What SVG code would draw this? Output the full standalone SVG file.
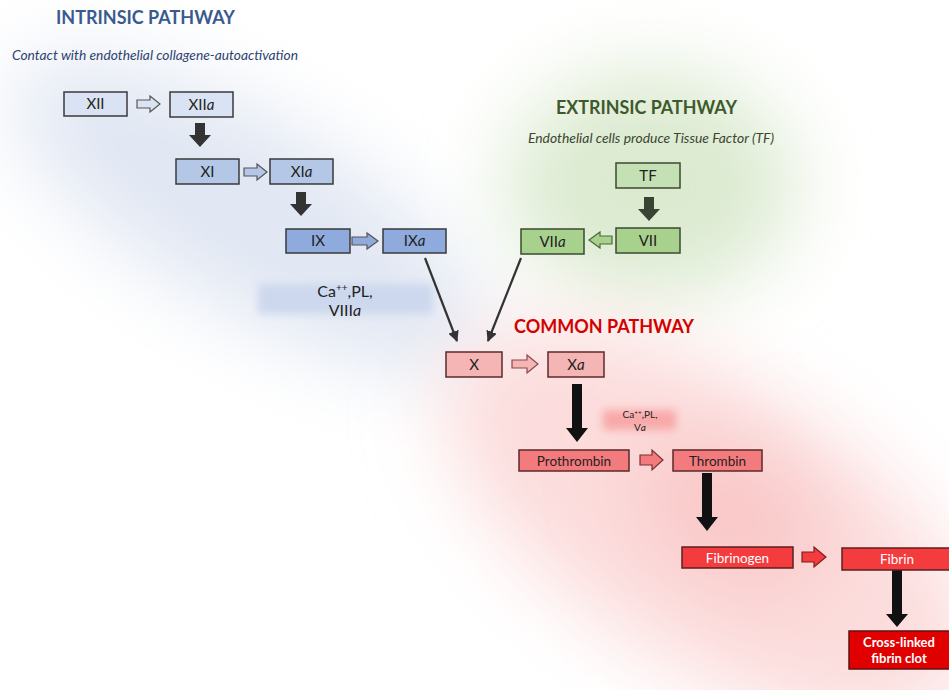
<svg xmlns="http://www.w3.org/2000/svg" width="949" height="690" viewBox="0 0 949 690">
<defs>
<filter id="blurBig" x="-50%" y="-50%" width="200%" height="200%"><feGaussianBlur stdDeviation="40"/></filter>
<filter id="blurSm" x="-30%" y="-60%" width="160%" height="220%"><feGaussianBlur stdDeviation="4"/></filter>
<marker id="ah" viewBox="0 0 10 10" refX="9" refY="5" markerWidth="5" markerHeight="5" orient="auto"><path d="M0,0 L10,5 L0,10 Z" fill="#333"/></marker>
<style>
text{font-family:Lato,"Liberation Sans",sans-serif;}
.lbl{font-size:15px;fill:#222;text-anchor:middle;}
.lbls{font-size:13.5px;fill:#222;text-anchor:middle;}
.box{stroke:#3a3a3a;stroke-width:1.5;}
.b1{fill:#dae3f3;}.b2{fill:#b4c7e7;}.b3{fill:#8faadc;}
.g1{fill:#c5e0b4;}.g2{fill:#a9d18e;}
.r1{fill:#f6b5b5;stroke:#5a2a2a;}.r2{fill:#f47b7d;stroke:#5a2a2a;}.r3{fill:#f43b3e;stroke:#5a2020;}.r4{fill:#e00000;stroke:#601010;}
.ha{stroke:#555;stroke-width:1.2;}
.dk{fill:#333;}
.bk{fill:#111;}
</style>
</defs>
<rect width="949" height="690" fill="#ffffff"/>
<g id="background">
<ellipse cx="250" cy="215" rx="270" ry="95" transform="rotate(30 250 215)" fill="#e1e7f3" filter="url(#blurBig)"/>
<ellipse cx="650" cy="185" rx="145" ry="115" fill="#dcead0" filter="url(#blurBig)"/>
<ellipse cx="710" cy="525" rx="300" ry="140" transform="rotate(32 710 525)" fill="#fcdcdc" filter="url(#blurBig)"/>
<ellipse cx="730" cy="515" rx="100" ry="60" transform="rotate(32 730 515)" fill="#f9c6c6" filter="url(#blurBig)"/>
</g>
<g id="titles">
<text x="56" y="24" font-size="18" font-weight="bold" fill="#3a5a8e" textLength="179" lengthAdjust="spacingAndGlyphs">INTRINSIC PATHWAY</text>
<text x="12" y="60" font-size="13" font-style="italic" fill="#2f4470" textLength="286" lengthAdjust="spacingAndGlyphs">Contact with endothelial collagene-autoactivation</text>
<text x="556" y="114" font-size="18" font-weight="bold" fill="#3e5a2c" textLength="181" lengthAdjust="spacingAndGlyphs">EXTRINSIC PATHWAY</text>
<text x="528" y="143" font-size="13" font-style="italic" fill="#3a4632" textLength="246" lengthAdjust="spacingAndGlyphs">Endothelial cells produce Tissue Factor (TF)</text>
<text x="514" y="333" font-size="18" font-weight="bold" fill="#d40000" textLength="180" lengthAdjust="spacingAndGlyphs">COMMON PATHWAY</text>
</g>
<g id="cofactor1">
<rect x="258" y="284" width="175" height="30" fill="#cdd8ee" filter="url(#blurSm)"/>
<text class="lbl" x="345" y="297" style="font-size:16px">Ca<tspan font-size="10" dy="-6">++</tspan><tspan dy="6">,PL,</tspan></text>
<text class="lbl" x="345" y="316" style="font-size:16px">VIII<tspan font-style="italic">a</tspan></text>
</g>
<g id="cofactor2">
<rect x="603" y="410" width="73" height="20" fill="#f8a9a9" filter="url(#blurSm)"/>
<text x="640" y="418" font-size="10" fill="#222" text-anchor="middle">Ca<tspan font-size="6.5" dy="-3.5">++</tspan><tspan dy="3.5">,PL,</tspan></text>
<text x="640" y="431" font-size="10" fill="#222" text-anchor="middle">V<tspan font-style="italic">a</tspan></text>
</g>
<g id="connectors">
<path class="ha b1" d="M137,100 H150 V96 L160,104 L150,112 V108 H137 Z"/>
<path class="ha b2" d="M244,168 H257 V164 L267,172 L257,180 V176 H244 Z"/>
<path class="ha b3" d="M352,237 H367 V233 L378,241 L367,249 V245 H352 Z"/>
<path class="ha g2" d="M612,236 H600 V232 L589,240 L600,248 V244 H612 Z" style="stroke:#4a6a3a"/>
<path class="ha r1" d="M512,360 H527 V355 L538,364 L527,373 V368 H512 Z" style="stroke:#8a4a4a"/>
<path class="ha r2" d="M640,455 H652 V450 L663,460 L652,470 V465 H640 Z" style="stroke:#7a3030"/>
<path class="ha r3" d="M802,552 H814 V547 L826,557 L814,567 V562 H802 Z" style="stroke:#7a2020"/>
<path class="dk" d="M195,123 H205 V135 H211 L200,147 L189,135 H195 Z"/>
<path class="dk" d="M296,192 H306 V204 H312 L301,216 L290,204 H296 Z"/>
<path d="M644,197 H654 V209 H660 L649,221 L638,209 H644 Z" fill="#3a4434"/>
<path class="bk" d="M572,384 H582 V428 H588 L577,442 L566,428 H572 Z"/>
<path class="bk" d="M702,473 H712 V517 H718 L707,531 L696,517 H702 Z"/>
<path class="bk" d="M892,570 H902 V614 H908 L897,627 L886,614 H892 Z"/>
<line x1="425" y1="258" x2="457" y2="341" stroke="#333" stroke-width="2.2" marker-end="url(#ah)"/>
<line x1="521" y1="258" x2="488" y2="341" stroke="#333" stroke-width="2.2" marker-end="url(#ah)"/>
</g>
<g id="XII"><rect class="box b1" x="64" y="92" width="63" height="24"/><text class="lbl" x="95.5" y="109">XII</text></g>
<g id="XIIa"><rect class="box b1" x="170" y="92" width="63" height="25"/><text class="lbl" x="201.5" y="110">XII<tspan font-style="italic">a</tspan></text></g>
<g id="XI"><rect class="box b2" x="176" y="159" width="63" height="25"/><text class="lbl" x="207.5" y="177">XI</text></g>
<g id="XIa"><rect class="box b2" x="270" y="159" width="63" height="25"/><text class="lbl" x="301.5" y="177">XI<tspan font-style="italic">a</tspan></text></g>
<g id="IX"><rect class="box b3" x="286" y="229" width="64" height="24"/><text class="lbl" x="318" y="246">IX</text></g>
<g id="IXa"><rect class="box b3" x="383" y="229" width="63" height="24"/><text class="lbl" x="414.5" y="246">IX<tspan font-style="italic">a</tspan></text></g>
<g id="TF"><rect class="box g1" x="616" y="163" width="64" height="25" style="stroke:#3a4a30"/><text class="lbl" x="648" y="181">TF</text></g>
<g id="VII"><rect class="box g2" x="616" y="228" width="64" height="25" style="stroke:#3a4a30"/><text class="lbl" x="648" y="246">VII</text></g>
<g id="VIIa"><rect class="box g2" x="521" y="229" width="63" height="25" style="stroke:#3a4a30"/><text class="lbl" x="552.5" y="247">VII<tspan font-style="italic">a</tspan></text></g>
<g id="X"><rect class="box r1" x="446" y="352" width="56" height="25"/><text class="lbl" x="474" y="370">X</text></g>
<g id="Xa"><rect class="box r1" x="548" y="352" width="56" height="25"/><text class="lbl" x="576" y="370">X<tspan font-style="italic">a</tspan></text></g>
<g id="Prothrombin"><rect class="box r2" x="519" y="450" width="110" height="21"/><text class="lbls" x="574" y="465.5">Prothrombin</text></g>
<g id="Thrombin"><rect class="box r2" x="673" y="450" width="89" height="21"/><text class="lbls" x="717.5" y="465.5">Thrombin</text></g>
<g id="Fibrinogen"><rect class="box r3" x="682" y="547" width="111" height="21"/><text class="lbls" x="737.5" y="562.5" style="fill:#fff">Fibrinogen</text></g>
<g id="Fibrin"><rect class="box r3" x="842" y="548" width="110" height="22"/><text class="lbls" x="897" y="564" style="fill:#fff">Fibrin</text></g>
<g id="Crosslinked"><rect class="box r4" x="849" y="631" width="103" height="38"/><text x="899" y="647" font-size="13" font-weight="bold" fill="#fff" text-anchor="middle">Cross-linked</text><text x="899" y="663" font-size="13" font-weight="bold" fill="#fff" text-anchor="middle">fibrin clot</text></g>
</svg>
